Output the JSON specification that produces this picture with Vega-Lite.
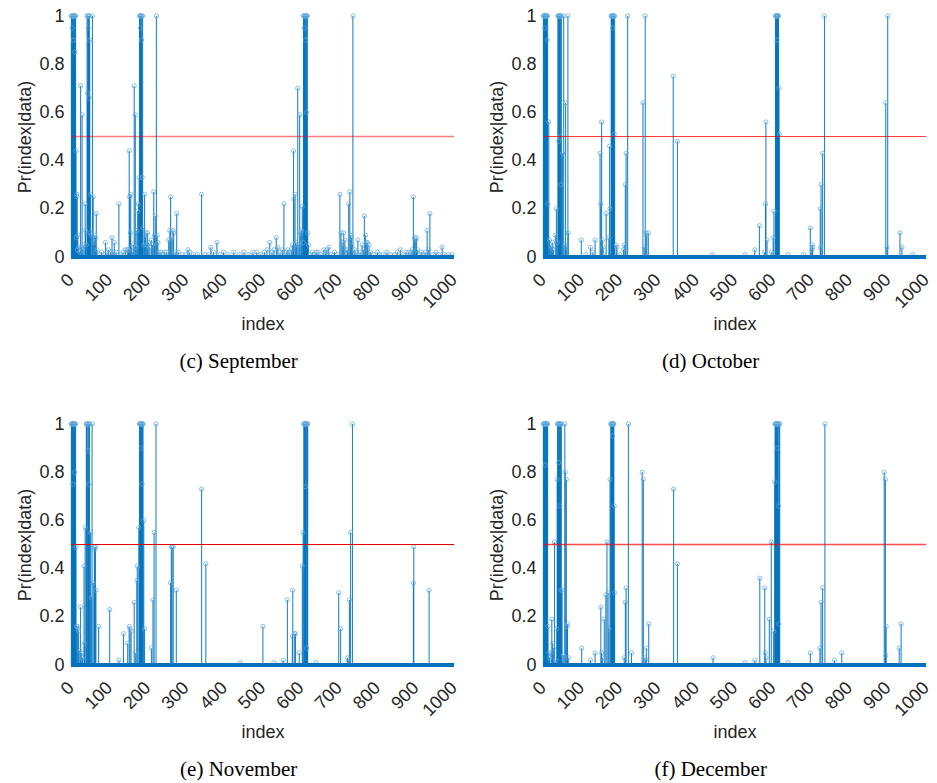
{
 "$schema": "https://vega.github.io/schema/vega-lite/v6.json",
 "padding": {"left": 16, "top": 7, "right": 5, "bottom": 5},
 "background": "white",
 "config": {
  "view": {"stroke": null},
  "font": "Liberation Sans",
  "axis": {"grid": false, "domain": false, "ticks": false, "labelFontSize": 18, "titleFontSize": 18, "titleFontWeight": "normal", "labelColor": "#262626", "titleColor": "#262626", "labelFont": "Liberation Sans", "titleFont": "Liberation Sans"},
  "axisX": {"values": [0,100,200,300,400,500,600,700,800,900,1000], "format": "d", "labelAngle": -45, "labelAlign": "right", "labelBaseline": "middle", "labelPadding": 20, "titlePadding": 4, "labelFlush": false, "labelOverlap": false},
  "axisY": {"values": [0,0.2,0.4,0.6,0.8,1], "format": "~g", "labelPadding": 7, "titlePadding": 4},
  "title": {"orient": "bottom", "font": "Liberation Serif", "fontSize": 21, "fontWeight": "normal", "color": "black", "offset": 17, "frame": "bounds", "anchor": "middle"}
 },
 "datasets": {
  "sep": [{"i":1,"p":1},{"i":2,"p":1},{"i":3,"p":0.95},{"i":4,"p":1},{"i":5,"p":1},{"i":6,"p":0.9},{"i":7,"p":1},{"i":8,"p":1},{"i":9,"p":1},{"i":10,"p":0.85},{"i":11,"p":1},{"i":12,"p":1},{"i":13,"p":0.44},{"i":14,"p":0.08},{"i":15,"p":0.26},{"i":16,"p":0.25},{"i":17,"p":0.03},{"i":18,"p":0.09},{"i":20,"p":0.04},{"i":22,"p":0.02},{"i":25,"p":0.71},{"i":27,"p":0.04},{"i":29,"p":0.59},{"i":31,"p":0.03},{"i":34,"p":0.05},{"i":37,"p":0.22},{"i":38,"p":0.11},{"i":40,"p":0.05},{"i":42,"p":1},{"i":43,"p":0.68},{"i":44,"p":1},{"i":45,"p":0.95},{"i":46,"p":1},{"i":47,"p":0.66},{"i":48,"p":1},{"i":49,"p":0.9},{"i":50,"p":0.1},{"i":51,"p":0.26},{"i":53,"p":0.09},{"i":56,"p":1},{"i":58,"p":0.25},{"i":60,"p":0.06},{"i":62,"p":0.09},{"i":64,"p":0.08},{"i":66,"p":0.18},{"i":68,"p":0.03},{"i":75,"p":0.01},{"i":80,"p":0.02},{"i":86,"p":0.01},{"i":90,"p":0.06},{"i":94,"p":0.02},{"i":98,"p":0.03},{"i":103,"p":0.02},{"i":107,"p":0.08},{"i":110,"p":0.02},{"i":113,"p":0.06},{"i":118,"p":0.02},{"i":125,"p":0.22},{"i":130,"p":0.01},{"i":136,"p":0.02},{"i":142,"p":0.03},{"i":147,"p":0.03},{"i":150,"p":0.03},{"i":152,"p":0.44},{"i":153,"p":0.25},{"i":155,"p":0.1},{"i":156,"p":0.26},{"i":158,"p":0.04},{"i":160,"p":0.02},{"i":163,"p":0.05},{"i":165,"p":0.71},{"i":168,"p":0.59},{"i":170,"p":0.04},{"i":172,"p":0.11},{"i":174,"p":0.19},{"i":176,"p":0.22},{"i":178,"p":0.33},{"i":179,"p":1},{"i":180,"p":1},{"i":181,"p":0.95},{"i":182,"p":1},{"i":183,"p":1},{"i":184,"p":0.9},{"i":185,"p":1},{"i":186,"p":0.33},{"i":187,"p":1},{"i":188,"p":0.12},{"i":190,"p":0.05},{"i":192,"p":0.26},{"i":194,"p":0.08},{"i":196,"p":0.1},{"i":198,"p":0.05},{"i":200,"p":0.1},{"i":203,"p":0.06},{"i":206,"p":0.04},{"i":210,"p":0.07},{"i":213,"p":0.05},{"i":216,"p":0.27},{"i":218,"p":0.09},{"i":220,"p":0.17},{"i":223,"p":1},{"i":225,"p":0.09},{"i":227,"p":0.06},{"i":230,"p":0.02},{"i":235,"p":0.02},{"i":240,"p":0.01},{"i":245,"p":0.02},{"i":250,"p":0.02},{"i":255,"p":0.07},{"i":258,"p":0.11},{"i":260,"p":0.25},{"i":263,"p":0.08},{"i":266,"p":0.11},{"i":268,"p":0.1},{"i":272,"p":0.02},{"i":276,"p":0.18},{"i":280,"p":0.02},{"i":290,"p":0.01},{"i":300,"p":0.01},{"i":305,"p":0.03},{"i":310,"p":0.02},{"i":320,"p":0.01},{"i":330,"p":0.01},{"i":341,"p":0.26},{"i":350,"p":0.01},{"i":360,"p":0.01},{"i":365,"p":0.04},{"i":372,"p":0.02},{"i":381,"p":0.06},{"i":390,"p":0.01},{"i":398,"p":0.02},{"i":410,"p":0.01},{"i":425,"p":0.02},{"i":440,"p":0.01},{"i":452,"p":0.02},{"i":465,"p":0.01},{"i":475,"p":0.02},{"i":485,"p":0.02},{"i":495,"p":0.01},{"i":505,"p":0.02},{"i":512,"p":0.03},{"i":519,"p":0.06},{"i":525,"p":0.02},{"i":530,"p":0.03},{"i":536,"p":0.08},{"i":540,"p":0.04},{"i":546,"p":0.02},{"i":552,"p":0.03},{"i":556,"p":0.22},{"i":562,"p":0.02},{"i":566,"p":0.03},{"i":570,"p":0.02},{"i":575,"p":0.03},{"i":578,"p":0.05},{"i":581,"p":0.44},{"i":582,"p":0.24},{"i":585,"p":0.26},{"i":587,"p":0.06},{"i":589,"p":0.05},{"i":592,"p":0.7},{"i":595,"p":0.05},{"i":597,"p":0.59},{"i":600,"p":0.1},{"i":602,"p":0.11},{"i":604,"p":0.21},{"i":606,"p":0.06},{"i":607,"p":1},{"i":608,"p":1},{"i":609,"p":0.95},{"i":610,"p":1},{"i":611,"p":1},{"i":612,"p":0.9},{"i":613,"p":1},{"i":614,"p":1},{"i":615,"p":0.6},{"i":616,"p":1},{"i":617,"p":1},{"i":618,"p":0.1},{"i":620,"p":0.05},{"i":625,"p":0.01},{"i":630,"p":0.02},{"i":635,"p":0.01},{"i":640,"p":0.02},{"i":645,"p":0.02},{"i":652,"p":0.01},{"i":660,"p":0.03},{"i":665,"p":0.02},{"i":668,"p":0.03},{"i":673,"p":0.04},{"i":680,"p":0.01},{"i":688,"p":0.02},{"i":695,"p":0.01},{"i":702,"p":0.26},{"i":705,"p":0.1},{"i":708,"p":0.06},{"i":710,"p":0.04},{"i":712,"p":0.1},{"i":715,"p":0.07},{"i":718,"p":0.03},{"i":722,"p":0.03},{"i":725,"p":0.22},{"i":728,"p":0.27},{"i":730,"p":0.09},{"i":732,"p":0.08},{"i":734,"p":0.05},{"i":736,"p":1},{"i":740,"p":0.03},{"i":744,"p":0.02},{"i":749,"p":0.07},{"i":755,"p":0.02},{"i":760,"p":0.05},{"i":763,"p":0.03},{"i":766,"p":0.17},{"i":769,"p":0.09},{"i":771,"p":0.06},{"i":774,"p":0.06},{"i":778,"p":0.05},{"i":782,"p":0.02},{"i":790,"p":0.01},{"i":800,"p":0.02},{"i":805,"p":0.01},{"i":815,"p":0.01},{"i":825,"p":0.02},{"i":835,"p":0.01},{"i":845,"p":0.01},{"i":852,"p":0.02},{"i":860,"p":0.03},{"i":868,"p":0.01},{"i":875,"p":0.02},{"i":882,"p":0.02},{"i":888,"p":0.02},{"i":891,"p":0.03},{"i":894,"p":0.25},{"i":897,"p":0.08},{"i":900,"p":0.07},{"i":902,"p":0.08},{"i":905,"p":0.03},{"i":910,"p":0.01},{"i":915,"p":0.02},{"i":920,"p":0.01},{"i":925,"p":0.02},{"i":930,"p":0.11},{"i":934,"p":0.03},{"i":937,"p":0.18},{"i":945,"p":0.01},{"i":953,"p":0.02},{"i":960,"p":0.01},{"i":969,"p":0.04},{"i":975,"p":0.01},{"i":985,"p":0.01},{"i":995,"p":0.01}],
  "oct": [{"i":1,"p":1},{"i":2,"p":1},{"i":3,"p":1},{"i":4,"p":1},{"i":5,"p":0.95},{"i":6,"p":1},{"i":7,"p":1},{"i":8,"p":1},{"i":9,"p":1},{"i":10,"p":1},{"i":11,"p":0.9},{"i":12,"p":1},{"i":13,"p":0.22},{"i":15,"p":0.56},{"i":17,"p":0.07},{"i":20,"p":0.05},{"i":22,"p":0.04},{"i":25,"p":0.06},{"i":27,"p":0.03},{"i":32,"p":0.09},{"i":35,"p":0.2},{"i":37,"p":0.06},{"i":39,"p":1},{"i":40,"p":1},{"i":41,"p":0.48},{"i":42,"p":1},{"i":43,"p":1},{"i":44,"p":1},{"i":45,"p":0.5},{"i":46,"p":1},{"i":47,"p":0.3},{"i":48,"p":1},{"i":51,"p":0.43},{"i":54,"p":1},{"i":57,"p":0.05},{"i":59,"p":0.64},{"i":61,"p":0.04},{"i":65,"p":1},{"i":66,"p":0.1},{"i":100,"p":0.07},{"i":112,"p":0.01},{"i":124,"p":0.04},{"i":130,"p":0.02},{"i":136,"p":0.07},{"i":149,"p":0.43},{"i":151,"p":0.22},{"i":153,"p":0.56},{"i":155,"p":0.07},{"i":157,"p":0.04},{"i":160,"p":0.01},{"i":165,"p":0.18},{"i":172,"p":0.08},{"i":174,"p":0.46},{"i":175,"p":0.2},{"i":178,"p":1},{"i":179,"p":1},{"i":180,"p":1},{"i":181,"p":1},{"i":182,"p":0.95},{"i":183,"p":1},{"i":184,"p":1},{"i":185,"p":1},{"i":186,"p":0.51},{"i":187,"p":1},{"i":191,"p":0.05},{"i":193,"p":0.04},{"i":200,"p":0.01},{"i":210,"p":0.03},{"i":212,"p":0.05},{"i":215,"p":0.3},{"i":217,"p":0.43},{"i":221,"p":1},{"i":261,"p":0.64},{"i":264,"p":0.04},{"i":267,"p":1},{"i":269,"p":0.1},{"i":271,"p":0.09},{"i":275,"p":0.1},{"i":340,"p":0.75},{"i":351,"p":0.48},{"i":442,"p":0.01},{"i":528,"p":0.01},{"i":553,"p":0.03},{"i":565,"p":0.13},{"i":578,"p":0.02},{"i":581,"p":0.22},{"i":582,"p":0.56},{"i":585,"p":0.07},{"i":596,"p":0.02},{"i":601,"p":0.08},{"i":603,"p":0.19},{"i":607,"p":1},{"i":608,"p":1},{"i":609,"p":1},{"i":610,"p":1},{"i":611,"p":0.9},{"i":612,"p":1},{"i":613,"p":1},{"i":614,"p":1},{"i":615,"p":1},{"i":616,"p":0.7},{"i":617,"p":0.51},{"i":640,"p":0.01},{"i":680,"p":0.01},{"i":698,"p":0.12},{"i":702,"p":0.03},{"i":703,"p":0.05},{"i":704,"p":0.04},{"i":724,"p":0.2},{"i":725,"p":0.04},{"i":726,"p":0.3},{"i":730,"p":0.43},{"i":735,"p":1},{"i":895,"p":0.64},{"i":898,"p":0.04},{"i":900,"p":1},{"i":932,"p":0.1},{"i":937,"p":0.04},{"i":965,"p":0.01}],
  "nov": [{"i":1,"p":1},{"i":2,"p":1},{"i":3,"p":1},{"i":4,"p":1},{"i":5,"p":0.75},{"i":6,"p":1},{"i":7,"p":1},{"i":8,"p":1},{"i":9,"p":1},{"i":10,"p":0.8},{"i":11,"p":1},{"i":12,"p":1},{"i":13,"p":0.49},{"i":15,"p":0.16},{"i":16,"p":0.16},{"i":18,"p":0.15},{"i":20,"p":0.14},{"i":23,"p":0.06},{"i":25,"p":0.24},{"i":28,"p":0.05},{"i":30,"p":0.03},{"i":34,"p":0.41},{"i":35,"p":0.09},{"i":37,"p":0.57},{"i":40,"p":1},{"i":41,"p":1},{"i":42,"p":1},{"i":44,"p":0.89},{"i":45,"p":1},{"i":46,"p":0.75},{"i":47,"p":1},{"i":48,"p":1},{"i":51,"p":0.55},{"i":53,"p":0.28},{"i":55,"p":1},{"i":58,"p":0.34},{"i":61,"p":0.49},{"i":62,"p":0.48},{"i":64,"p":0.49},{"i":65,"p":0.31},{"i":72,"p":0.16},{"i":101,"p":0.23},{"i":125,"p":0.02},{"i":137,"p":0.13},{"i":148,"p":0.09},{"i":152,"p":0.16},{"i":154,"p":0.15},{"i":157,"p":0.14},{"i":165,"p":0.26},{"i":168,"p":0.05},{"i":172,"p":0.35},{"i":173,"p":0.41},{"i":177,"p":0.57},{"i":179,"p":1},{"i":180,"p":1},{"i":181,"p":1},{"i":182,"p":1},{"i":183,"p":0.9},{"i":184,"p":1},{"i":185,"p":1},{"i":186,"p":0.75},{"i":187,"p":1},{"i":188,"p":1},{"i":190,"p":0.6},{"i":192,"p":0.15},{"i":210,"p":0.07},{"i":214,"p":0.27},{"i":217,"p":0.55},{"i":222,"p":1},{"i":260,"p":0.34},{"i":262,"p":0.49},{"i":264,"p":0.49},{"i":267,"p":0.49},{"i":275,"p":0.31},{"i":341,"p":0.73},{"i":352,"p":0.42},{"i":442,"p":0.01},{"i":501,"p":0.16},{"i":530,"p":0.01},{"i":554,"p":0.02},{"i":565,"p":0.27},{"i":578,"p":0.12},{"i":579,"p":0.31},{"i":584,"p":0.13},{"i":586,"p":0.13},{"i":596,"p":0.05},{"i":604,"p":0.41},{"i":606,"p":0.55},{"i":608,"p":1},{"i":609,"p":1},{"i":610,"p":1},{"i":611,"p":1},{"i":612,"p":0.74},{"i":613,"p":1},{"i":614,"p":1},{"i":615,"p":0.07},{"i":616,"p":1},{"i":617,"p":1},{"i":618,"p":1},{"i":640,"p":0.01},{"i":699,"p":0.3},{"i":704,"p":0.15},{"i":722,"p":0.03},{"i":724,"p":0.02},{"i":727,"p":0.27},{"i":730,"p":0.55},{"i":735,"p":1},{"i":894,"p":0.34},{"i":895,"p":0.49},{"i":935,"p":0.31}],
  "dec": [{"i":1,"p":1},{"i":2,"p":1},{"i":3,"p":1},{"i":4,"p":1},{"i":5,"p":1},{"i":6,"p":0.83},{"i":7,"p":1},{"i":8,"p":1},{"i":9,"p":1},{"i":10,"p":1},{"i":11,"p":1},{"i":12,"p":1},{"i":13,"p":0.16},{"i":15,"p":0.05},{"i":17,"p":0.03},{"i":21,"p":0.05},{"i":23,"p":0.19},{"i":25,"p":0.09},{"i":27,"p":0.07},{"i":30,"p":0.51},{"i":34,"p":0.02},{"i":36,"p":0.15},{"i":37,"p":0.77},{"i":38,"p":1},{"i":39,"p":1},{"i":40,"p":1},{"i":41,"p":0.84},{"i":42,"p":1},{"i":43,"p":1},{"i":44,"p":0.66},{"i":45,"p":1},{"i":46,"p":1},{"i":47,"p":0.31},{"i":48,"p":1},{"i":50,"p":0.31},{"i":53,"p":0.04},{"i":57,"p":1},{"i":58,"p":0.8},{"i":61,"p":0.77},{"i":63,"p":0.16},{"i":64,"p":0.17},{"i":66,"p":0.03},{"i":101,"p":0.07},{"i":124,"p":0.02},{"i":136,"p":0.05},{"i":151,"p":0.24},{"i":153,"p":0.05},{"i":155,"p":0.03},{"i":160,"p":0.19},{"i":164,"p":0.29},{"i":167,"p":0.51},{"i":170,"p":0.3},{"i":172,"p":0.15},{"i":175,"p":0.77},{"i":177,"p":1},{"i":178,"p":1},{"i":179,"p":1},{"i":180,"p":1},{"i":181,"p":1},{"i":182,"p":0.95},{"i":183,"p":1},{"i":184,"p":1},{"i":185,"p":1},{"i":186,"p":0.66},{"i":187,"p":0.3},{"i":212,"p":0.03},{"i":215,"p":0.26},{"i":217,"p":0.32},{"i":223,"p":1},{"i":231,"p":0.05},{"i":259,"p":0.8},{"i":262,"p":0.77},{"i":266,"p":0.03},{"i":268,"p":0.02},{"i":270,"p":0.07},{"i":276,"p":0.17},{"i":341,"p":0.73},{"i":351,"p":0.42},{"i":444,"p":0.03},{"i":528,"p":0.01},{"i":553,"p":0.02},{"i":566,"p":0.36},{"i":579,"p":0.32},{"i":580,"p":0.05},{"i":582,"p":0.03},{"i":591,"p":0.19},{"i":596,"p":0.51},{"i":602,"p":0.14},{"i":605,"p":0.76},{"i":606,"p":1},{"i":607,"p":1},{"i":608,"p":1},{"i":609,"p":1},{"i":610,"p":1},{"i":611,"p":0.9},{"i":612,"p":1},{"i":613,"p":1},{"i":614,"p":1},{"i":615,"p":0.66},{"i":616,"p":0.17},{"i":617,"p":1},{"i":618,"p":1},{"i":640,"p":0.01},{"i":698,"p":0.05},{"i":723,"p":0.07},{"i":726,"p":0.26},{"i":730,"p":0.32},{"i":736,"p":1},{"i":761,"p":0.02},{"i":780,"p":0.05},{"i":891,"p":0.8},{"i":894,"p":0.77},{"i":895,"p":0.04},{"i":896,"p":0.16},{"i":930,"p":0.07},{"i":935,"p":0.17}]
 },
 "columns": 2,
 "spacing": {"row": 43, "column": 27},
 "concat": [
  {"width": 383, "height": 241, "title": "(c) September",
   "layer": [
    {"data": {"name": "sep"}, "mark": {"type": "rule", "color": "#0072BD", "opacity": 0.85, "strokeWidth": 1.1}, "encoding": {"x": {"field": "i", "type": "quantitative", "title": "index", "scale": {"domain": [0, 1000], "nice": false}}, "y": {"field": "p", "type": "quantitative", "title": "Pr(index|data)", "scale": {"domain": [0, 1], "nice": false}}, "y2": {"datum": 0}}},
    {"data": {"name": "sep"}, "mark": {"type": "point", "shape": "circle", "filled": false, "size": 18, "color": "#5fa8dd", "strokeWidth": 0.8, "opacity": 0.9}, "encoding": {"x": {"field": "i", "type": "quantitative"}, "y": {"field": "p", "type": "quantitative"}}},
    {"data": {"values": [{"k": 1}]}, "mark": {"type": "rule", "color": "#0072BD", "strokeWidth": 4}, "encoding": {"y": {"datum": 0}}},
    {"data": {"values": [{"k": 1}]}, "mark": {"type": "rule", "color": "#ff0000", "opacity": 0.5, "strokeWidth": 1.5}, "encoding": {"y": {"datum": 0.5}}}
   ]},
  {"width": 383, "height": 241, "title": "(d) October",
   "layer": [
    {"data": {"name": "oct"}, "mark": {"type": "rule", "color": "#0072BD", "opacity": 0.85, "strokeWidth": 1.1}, "encoding": {"x": {"field": "i", "type": "quantitative", "title": "index", "scale": {"domain": [0, 1000], "nice": false}}, "y": {"field": "p", "type": "quantitative", "title": "Pr(index|data)", "scale": {"domain": [0, 1], "nice": false}}, "y2": {"datum": 0}}},
    {"data": {"name": "oct"}, "mark": {"type": "point", "shape": "circle", "filled": false, "size": 18, "color": "#5fa8dd", "strokeWidth": 0.8, "opacity": 0.9}, "encoding": {"x": {"field": "i", "type": "quantitative"}, "y": {"field": "p", "type": "quantitative"}}},
    {"data": {"values": [{"k": 1}]}, "mark": {"type": "rule", "color": "#0072BD", "strokeWidth": 4}, "encoding": {"y": {"datum": 0}}},
    {"data": {"values": [{"k": 1}]}, "mark": {"type": "rule", "color": "#ff0000", "opacity": 0.75, "strokeWidth": 1.2}, "encoding": {"y": {"datum": 0.5}}}
   ]},
  {"width": 383, "height": 241, "title": "(e) November",
   "layer": [
    {"data": {"name": "nov"}, "mark": {"type": "rule", "color": "#0072BD", "opacity": 0.85, "strokeWidth": 1.1}, "encoding": {"x": {"field": "i", "type": "quantitative", "title": "index", "scale": {"domain": [0, 1000], "nice": false}}, "y": {"field": "p", "type": "quantitative", "title": "Pr(index|data)", "scale": {"domain": [0, 1], "nice": false}}, "y2": {"datum": 0}}},
    {"data": {"name": "nov"}, "mark": {"type": "point", "shape": "circle", "filled": false, "size": 18, "color": "#5fa8dd", "strokeWidth": 0.8, "opacity": 0.9}, "encoding": {"x": {"field": "i", "type": "quantitative"}, "y": {"field": "p", "type": "quantitative"}}},
    {"data": {"values": [{"k": 1}]}, "mark": {"type": "rule", "color": "#0072BD", "strokeWidth": 4}, "encoding": {"y": {"datum": 0}}},
    {"data": {"values": [{"k": 1}]}, "mark": {"type": "rule", "color": "#e00000", "opacity": 1, "strokeWidth": 1.2}, "encoding": {"y": {"datum": 0.5}}}
   ]},
  {"width": 383, "height": 241, "title": "(f) December",
   "layer": [
    {"data": {"name": "dec"}, "mark": {"type": "rule", "color": "#0072BD", "opacity": 0.85, "strokeWidth": 1.1}, "encoding": {"x": {"field": "i", "type": "quantitative", "title": "index", "scale": {"domain": [0, 1000], "nice": false}}, "y": {"field": "p", "type": "quantitative", "title": "Pr(index|data)", "scale": {"domain": [0, 1], "nice": false}}, "y2": {"datum": 0}}},
    {"data": {"name": "dec"}, "mark": {"type": "point", "shape": "circle", "filled": false, "size": 18, "color": "#5fa8dd", "strokeWidth": 0.8, "opacity": 0.9}, "encoding": {"x": {"field": "i", "type": "quantitative"}, "y": {"field": "p", "type": "quantitative"}}},
    {"data": {"values": [{"k": 1}]}, "mark": {"type": "rule", "color": "#0072BD", "strokeWidth": 4}, "encoding": {"y": {"datum": 0}}},
    {"data": {"values": [{"k": 1}]}, "mark": {"type": "rule", "color": "#ff0000", "opacity": 0.7, "strokeWidth": 1.5}, "encoding": {"y": {"datum": 0.5}}}
   ]}
 ]
}
